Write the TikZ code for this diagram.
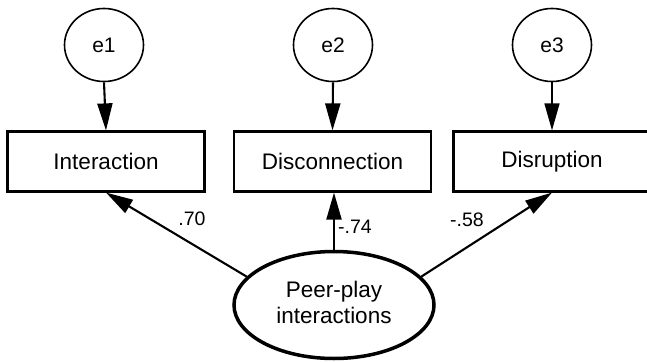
\documentclass[tikz,border=0pt]{standalone}
\usepackage{fontspec}
\setmainfont{Liberation Sans}
\usetikzlibrary{shapes.geometric,arrows.meta}
\begin{document}
\begin{tikzpicture}[x=1pt,y=-1pt,
  errnode/.style={ellipse,draw,line width=1.6pt,inner sep=0pt,minimum width=79pt,minimum height=73pt,font=\fontsize{21}{24}\selectfont},
  obsbox/.style={rectangle,draw,line width=2.2pt,inner sep=0pt,minimum width=197pt,minimum height=60pt,font=\fontsize{22.5}{25}\selectfont},
  latent/.style={ellipse,draw,line width=3.5pt,inner sep=0pt,minimum width=200pt,minimum height=107pt,align=center,font=\fontsize{22.5}{25}\selectfont},
  path arrow/.style={line width=2.1pt,-{Triangle[length=27pt,width=15pt]}},
  coef/.style={font=\fontsize{19.5}{22}\selectfont,inner sep=0pt}
]
\useasboundingbox (0,0) rectangle (647,361);
\clip (0,0) rectangle (647,361);
\node[errnode] (e1) at (104,45) {e1};
\node[errnode] (e2) at (333,45) {e2};
\node[errnode] (e3) at (552,45) {e3};
\node[obsbox] (I) at (106,161.5) {Interaction};
\node[obsbox] (D) at (332.5,161.5) {Disconnection};
\node[obsbox] (R) at (552,161.5) {Disruption};
\node[latent] (P) at (334,305) {\raisebox{-9pt}{\begin{tabular}{@{}c@{}}Peer-play\\[1pt]interactions\end{tabular}}};
\draw[path arrow] (e1.south) -- (I.north);
\draw[path arrow] (e2.south) -- (D.north);
\draw[path arrow,line width=1.3pt] (e3.south) -- (R.north);
\draw[path arrow] (P.162) -- (I.south);
\draw[path arrow] (P.north) -- (P.north |- D.south);
\draw[path arrow] (P.18) -- (R.south);
\node[coef] (c1) at (192,219) {.70};
\node[coef] (c2) at (355,227) {-.74};
\node[coef] (c3) at (467,220) {-.58};
\end{tikzpicture}
\end{document}
